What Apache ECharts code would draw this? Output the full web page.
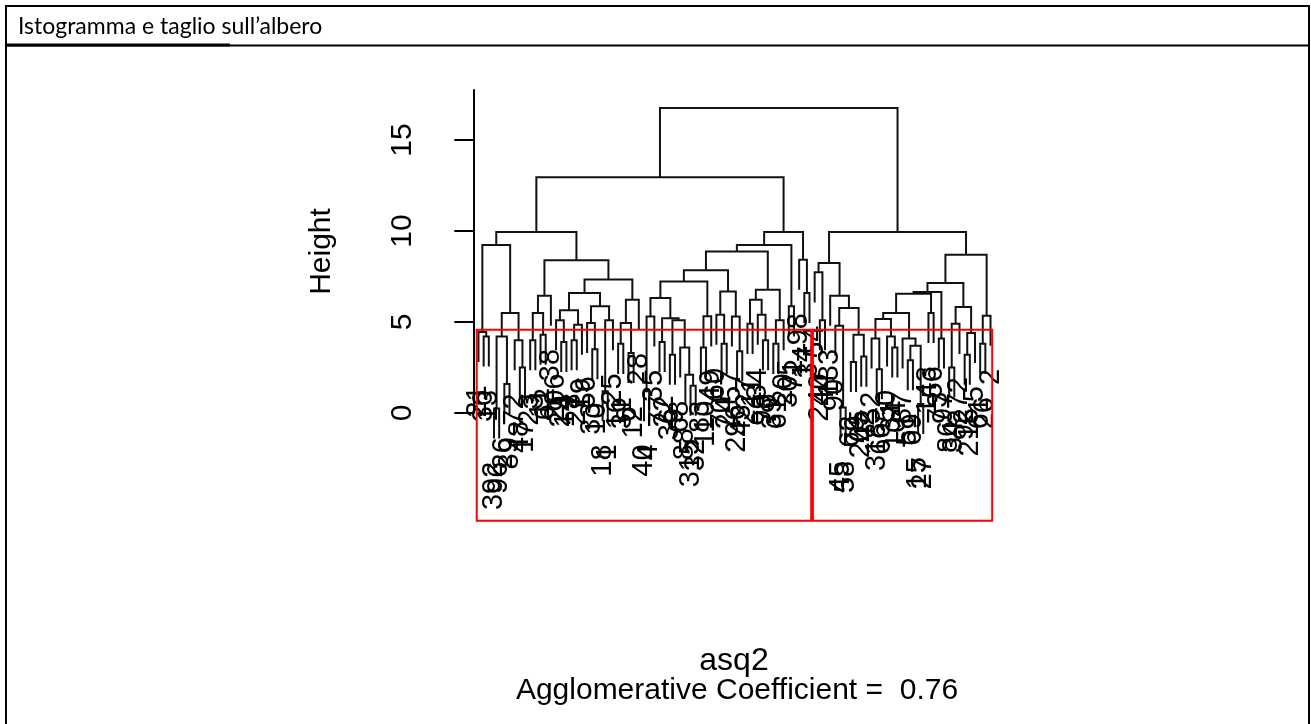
<!DOCTYPE html>
<html>
<head>
<meta charset="utf-8">
<title>asq2 dendrogram</title>
<script src="https://cdn.jsdelivr.net/npm/echarts@6/dist/echarts.min.js"></script>
<style>
  html, body { margin: 0; padding: 0; background: #fff; }
  #main { width: 1311px; height: 724px; }
</style>
</head>
<body>
<div id="main"></div>
<script>
// agnes(asq2) dendrogram
// a node is [height, left, right], a leaf is its label
var clusterA1a = [9.23,
    [4.45, "21", [4.2, "30", "13"]],
    [5.5,
        [4.2, [0.25, "392", "96"], [1.6, "26", "89"]],
        [4.0, "72", [2.5, "48", "17"]]]];

var clusterA1b = [8.39,
    [6.45, [5.5, [4.0, "23", "3"], [4.3, "11", "62"]], "38"],
    [7.33,
        [6.6,
            [5.64, [5.1, "206", [3.9, "29", "14"]], [4.85, [4.0, "8", "27"], "19"]],
            [5.86, [4.95, "56", [3.5, "33", "10"]], [5.1, [1.2, "18", "1"], "25"]]],
        [6.23, [4.95, [3.8, "16", "31"], [3.3, "6", "12"]], "28"]]];

var clusterA2a = [9.23,
    [8.88,
        [7.84,
            [7.23,
                [6.32, [5.3, [1.2, "40", "4"], "35"],
                    [5.2, [3.9, "77", "22"], [5.1, [3.2, "36", "9"], [3.6, "68", [2.1, "88", [1.5, "315", "32"]]]]]],
                [5.31, [3.6, "83", "110"], "49"]],
            [6.68, [5.4, "60", [3.8, "70", "24"]], [5.3, "57", [3.4, "296", "43"]]]],
        [6.77, [6.23, [4.9, "227", "11"], [5.4, "34", [4.0, "99", "76"]]], [5.1, [3.8, "39", "61"], "20"]]],
    [5.86, "305", "71"]];

var clusterA2b = [8.42, "98", [6.6, "14", "37"]];

var clusterB1 = [8.24,
    [7.73, "54", [5.1, "240", "44"]],
    [6.45, "133", [5.77, [4.8, "90", [0.3, "45", "58"]], [4.3, [2.8, "62", "79"], [3.1, "205", "42"]]]]];

var clusterB2a = [7.14,
    [6.65,
        [6.55,
            [5.5,
                [5.16, [4.1, "52", [2.4, "318", "66"]], [4.2, "50", [3.6, "31", "104"]]],
                [4.1, "87", [3.7, [2.9, "51", "69"], [0.5, "15", "27"]]]],
            [5.5, "143", "56"]],
        [4.1, "73", "97"]],
    [5.83, [4.9, [2.5, "86", "34"], "272"], [4.4, [3.2, "92", "215"], "5"]]];

var clusterB2b = [5.35, [3.8, "61", "26"], "2"];

var tree = [16.76,
    [12.95, [9.94, clusterA1a, clusterA1b], [9.94, clusterA2a, clusterA2b]],
    [9.94, clusterB1, [8.7, clusterB2a, clusterB2b]]];

var yTicks = [0, 5, 10, 15];
var cutHeight = 4.58;      // top of the rect.hclust boxes
var plotFloor = -5.92;     // bottom of the plot region, where the boxes end
var hangFraction = 0.1;
var datasetName = 'asq2';
var agglomerativeCoefficient = '0.76';
var headerText = 'Istogramma e taglio sull\u2019albero';

// heights of all merges, to get the hang like plot.hclust
function collectHeights(node, out) {
    if (typeof node === 'string') return out;
    out.push(node[0]);
    collectHeights(node[1], out);
    collectHeights(node[2], out);
    return out;
}
var allHeights = collectHeights(tree, []);
var hang = hangFraction * (Math.max.apply(null, allHeights) - Math.min.apply(null, allHeights));

var leaves = [];
var leafEnds = [];
var segments = [];

function place(node) {
    if (typeof node === 'string') {
        leaves.push(node);
        return { x: leaves.length, h: null, size: 1 };
    }
    var h = node[0];
    var l = place(node[1]);
    var r = place(node[2]);
    var lEnd = l.h === null ? h - hang : l.h;
    var rEnd = r.h === null ? h - hang : r.h;
    if (l.h === null) leafEnds[l.x - 1] = lEnd;
    if (r.h === null) leafEnds[r.x - 1] = rEnd;
    segments.push([l.x, lEnd, r.x, rEnd, h]);
    return { x: (l.x + r.x) / 2, h: h, size: l.size + r.size };
}
place(tree);

var n = leaves.length;
var leftSize = collectHeights(tree[1], []).length + 1;
var boxes = [[0.66, leftSize + 0.33], [leftSize + 0.66, n + 0.33]];
var leafData = leaves.map(function (s, i) { return [i + 1, leafEnds[i]]; });

var fontR = '"Liberation Sans", Arial, sans-serif';
var labelSize = 29;

var myChart = echarts.init(document.getElementById('main'));

var option = {
    animation: false,
    backgroundColor: '#fff',
    grid: { left: 458, top: 90, width: 553, height: 323 },
    xAxis: {
        type: 'value',
        min: 1 - 0.04 * (n - 1),
        max: n + 0.04 * (n - 1),
        show: false
    },
    yAxis: {
        type: 'value',
        min: 0,
        max: 17.75,
        interval: 5,
        name: 'Height',
        nameLocation: 'middle',
        nameRotate: 90,
        nameGap: 121,
        nameTextStyle: { fontFamily: fontR, fontSize: 30, color: '#000' },
        axisLine: { show: true, lineStyle: { color: '#000', width: 2 } },
        axisTick: { show: true, length: 19, customValues: yTicks, lineStyle: { color: '#000', width: 2 } },
        axisLabel: {
            rotate: 90, margin: 40, customValues: yTicks,
            fontFamily: fontR, fontSize: 30, color: '#000'
        },
        splitLine: { show: false }
    },
    series: [{
        type: 'custom',
        clip: false,
        silent: true,
        data: segments,
        renderItem: function (params, api) {
            var p1 = api.coord([api.value(0), api.value(1)]);
            var p2 = api.coord([api.value(0), api.value(4)]);
            var p3 = api.coord([api.value(2), api.value(4)]);
            var p4 = api.coord([api.value(2), api.value(3)]);
            return {
                type: 'polyline',
                shape: { points: [p1, p2, p3, p4] },
                style: { stroke: '#111', lineWidth: 2, fill: null }
            };
        }
    }, {
        type: 'custom',
        clip: false,
        silent: true,
        data: leafData,
        renderItem: function (params, api) {
            var p = api.coord([api.value(0), api.value(1)]);
            // label sits one "m" width below the end of its leaf, like plot.hclust
            return {
                type: 'text',
                x: p[0],
                y: p[1] + labelSize * 0.8,
                rotation: Math.PI / 2,
                style: {
                    text: leaves[params.dataIndex],
                    align: 'right',
                    verticalAlign: 'middle',
                    fontFamily: fontR,
                    fontSize: labelSize,
                    fill: '#000'
                }
            };
        }
    }, {
        type: 'custom',
        clip: false,
        silent: true,
        data: boxes,
        renderItem: function (params, api) {
            var a = api.coord([api.value(0), cutHeight]);
            var b = api.coord([api.value(1), plotFloor]);
            return {
                type: 'rect',
                shape: { x: a[0], y: a[1], width: b[0] - a[0], height: b[1] - a[1] },
                style: { stroke: '#ff0000', lineWidth: 2, fill: null }
            };
        }
    }],
    graphic: [
        { type: 'line', shape: { x1: 5, y1: 6, x2: 1310, y2: 6 }, style: { stroke: '#000', lineWidth: 2 } },
        { type: 'line', shape: { x1: 6, y1: 5, x2: 6, y2: 724 }, style: { stroke: '#000', lineWidth: 2 } },
        { type: 'line', shape: { x1: 1309, y1: 5, x2: 1309, y2: 724 }, style: { stroke: '#000', lineWidth: 2 } },
        { type: 'line', shape: { x1: 6, y1: 45.5, x2: 1309, y2: 45.5 }, style: { stroke: '#000', lineWidth: 2 } },
        { type: 'line', shape: { x1: 6, y1: 45, x2: 230, y2: 45 }, style: { stroke: '#000', lineWidth: 3 } },
        {
            type: 'text', x: 18, y: 27,
            style: { text: headerText, font: '23px Lato, sans-serif', fill: '#000', verticalAlign: 'middle' }
        },
        {
            type: 'text', x: 734, y: 661,
            style: { text: datasetName, fontFamily: fontR, fontSize: 32, fill: '#000', align: 'center', verticalAlign: 'middle' }
        },
        {
            type: 'text', x: 737, y: 691,
            style: {
                text: 'Agglomerative Coefficient =  ' + agglomerativeCoefficient,
                fontFamily: fontR, fontSize: 30, fill: '#000', align: 'center', verticalAlign: 'middle'
            }
        }
    ]
};
myChart.setOption(option);
</script>
</body>
</html>
